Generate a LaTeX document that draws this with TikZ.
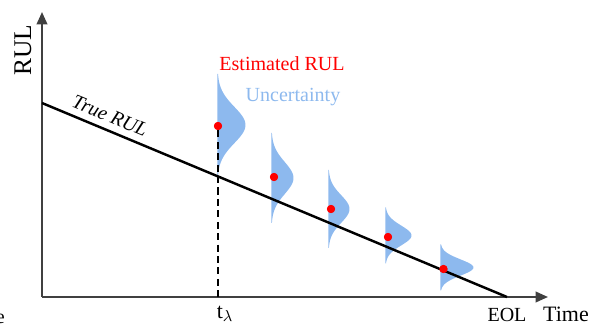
\documentclass[tikz,border=0pt]{standalone}
\usepackage{fontspec}
\setmainfont{Liberation Serif}
\usepackage{tikz}
\usetikzlibrary{arrows.meta}

\definecolor{uncblue}{RGB}{141,185,238}
\definecolor{axisgray}{RGB}{64,64,64}

\begin{document}
\begin{tikzpicture}[x=0.02cm, y=-0.02cm,
  axis/.style={draw=axisgray, line width=1.1pt, -{Triangle[length=7pt, width=6pt]}},
  trueline/.style={draw=black, line width=1.4pt},
  estdot/.style={circle, fill=red, inner sep=0pt, minimum size=4.6pt},
  unc/.style={fill=uncblue},
  lbl/.style={font=\fontsize{11.4}{13}\selectfont, inner sep=0pt}]
\useasboundingbox (0,0) rectangle (600,328);
% uncertainty shapes: left x / centre y / width / half height
\foreach \x/\c/\w/\h in {217.5/125/28/51, 271.5/178/22/45, 328.5/209/21/39, 385.5/235.5/26/28, 440.5/267.5/33/23}
  \fill[unc] (\x,{\c-\h}) -- plot[domain=-1:1, samples=50, variable=\t] ({\x+\w*exp(-(2*\t)^2)}, {\c+\h*\t}) -- (\x,{\c+\h}) -- cycle;
\coordinate (O) at (42,297);
\coordinate (ytip) at (42,12);
\coordinate (xtip) at (548,297);
\coordinate (start) at (42,103);
\coordinate (eol) at (507,297);
\coordinate (tl) at (218,297);
\draw[axis] (O) -- (ytip);
\draw[axis] (O) -- (xtip);
\draw[trueline] (start) -- (eol);
\node[estdot] (est1) at (218,126) {};
\node[estdot] (est2) at (274,177) {};
\node[estdot] (est3) at (331,209) {};
\node[estdot] (est4) at (388,237) {};
\node[estdot] (est5) at (443.5,269) {};
\draw[dashed, line width=0.9pt, dash pattern=on 4pt off 2.5pt] (est1) -- (tl);
\foreach \i in {1,...,5}
  \fill[red] (est\i) circle (2.3pt);
% labels
\node[lbl, font=\fontsize{14.5}{16}\selectfont, rotate=90] (rul) at (23,50) {RUL};
\node[lbl, red, anchor=base] (estlbl) at (282,70.5) {Estimated RUL};
\node[lbl, uncblue, anchor=base] (unclbl) at (293,101.5) {Uncertainty};
\node[lbl, rotate=-22.6, font=\fontsize{11.4}{13}\itshape] (truelbl) at (110,116) {True RUL};
\node[lbl, anchor=base] (eollbl) at (507,322) {EOL};
\node[lbl, anchor=base, font=\fontsize{12.5}{14}\selectfont] (timelbl) at (566,322) {Time};
\node[lbl, anchor=base, font=\fontsize{12.5}{14}\selectfont] (tlbl) at (225,318) {t$_\lambda$};
\node[lbl, anchor=base east] (cut) at (5,324) {e};
\end{tikzpicture}
\end{document}
